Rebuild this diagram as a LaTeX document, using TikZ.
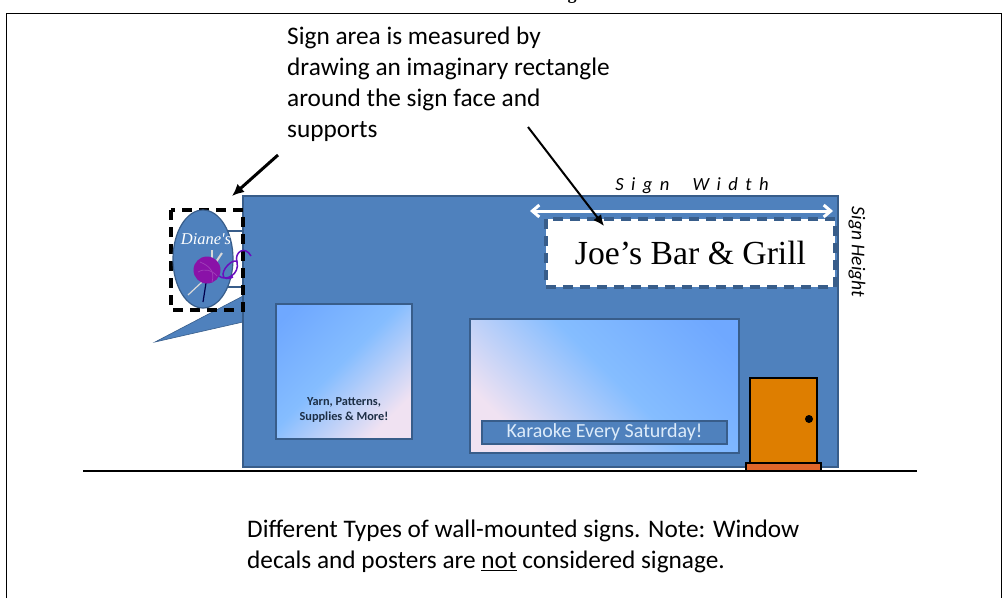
\documentclass[tikz,border=0pt]{standalone}
\usepackage{fontspec}
\setmainfont{Carlito}
\newfontfamily\serifjoe{Liberation Serif}
\newfontfamily\spacedit[LetterSpace=40,ItalicFont={Carlito Italic}]{Carlito}
\usetikzlibrary{arrows.meta,shapes.geometric}
\definecolor{wallblue}{HTML}{4F81BD}
\definecolor{edgeblue}{HTML}{385D8A}
\definecolor{winA}{HTML}{6FA8FF}
\definecolor{winB}{HTML}{85BDFF}
\definecolor{winC}{HTML}{F0E2F2}
\definecolor{doorfill}{HTML}{DE7E00}
\definecolor{stepfill}{HTML}{E0662A}
\definecolor{yarn}{HTML}{8A12A8}
\definecolor{bannertext}{HTML}{DCEBFA}
\pgfdeclarehorizontalshading{winshade}{100bp}{color(0bp)=(winA); color(20bp)=(winA); color(47bp)=(winB); color(74bp)=(winC); color(100bp)=(winC)}
\tikzset{
  wall/.style={draw=edgeblue,line width=1.8pt,fill=wallblue},
  winbox/.style={draw=edgeblue,line width=2.6pt,shading=winshade},
  signbox/.style={dash pattern=on 10pt off 7pt,line width=3.2pt},
  callout/.style={-{Latex[length=12pt,width=11pt]},line width=3pt,black},
  body/.style={font=\fontsize{25.3}{31}\selectfont,align=left,anchor=north west,inner sep=0pt,text=black},
}
\begin{document}
\begin{tikzpicture}[x=1pt,y=-1pt]
\useasboundingbox (0,0) rectangle (1008,598);
\fill[white] (0,0) rectangle (1008,598);
\node[font=\serifjoe\bfseries\fontsize{18}{18}\selectfont,anchor=base,inner sep=0pt] (title) at (572,-1) {g};
\draw[line width=1.8pt,black] (6.5,598) -- (6.5,13.5) -- (1001.5,13.5) -- (1001.5,598);
% small white panel behind the oval
\draw[edgeblue,line width=1.4pt,fill=white] (225,231) rectangle (243,287);
% bracket triangle
\coordinate (triA) at (155,342);
\coordinate (triB) at (243,296);
\coordinate (triC) at (243,322);
\fill[wallblue,draw=edgeblue,line width=.6pt] (triA) -- (triB) -- (triC) -- cycle;
% building
\draw[wall] (243,196) rectangle (838,467);
% projecting sign
\draw[signbox,black] (171,210) rectangle (243,310);
\node[draw=edgeblue,line width=1.2pt,fill=wallblue,ellipse,minimum width=60pt,minimum height=98pt,inner sep=0pt] (oval) at (203,259) {};
\node[font=\serifjoe\itshape\fontsize{16.5}{16}\selectfont,text=white,inner sep=0pt] (diane) at (206,239) {Diane's};
\draw[white!85!black,line width=1.2pt] (202,282) -- (188,295);
\draw[black!70!blue,line width=1.2pt] (206,283) -- (203,302);
\draw[white!85!black,line width=2pt] (212,250) -- (212,262);
\draw[white!85!black,line width=2pt] (222,253) -- (214,265);
\node[circle,fill=yarn,minimum size=27pt,inner sep=0pt] (ball) at (207,270) {};
\draw[yarn!80!white,line width=.7pt] (200,262) .. controls (210,266) and (215,272) .. (212,282);
\draw[yarn!80!white,line width=.7pt] (198,272) .. controls (205,268) and (212,270) .. (217,276);
\draw[yarn!75!blue,line width=1.5pt] (219,276) .. controls (226,282) and (240,274) .. (237,262)
  .. controls (235,258) and (224,266) .. (223,274) .. controls (222,280) and (230,279) .. (233,277);
\draw[yarn!75!blue,line width=1.5pt] (237,262) .. controls (234,252) and (245,245) .. (251,256);
% windows
\draw[winbox,shading angle=315] (276,304) rectangle (412,439);
\node[font=\bfseries\fontsize{12.3}{15.5}\selectfont,text=edgeblue!50!black,align=center,inner sep=0pt] (yarntext) at (344,410) {Yarn, Patterns,\\Supplies \& More!};
\draw[winbox,shading angle=225] (470,319) rectangle (739,453);
\node[draw=edgeblue,line width=1.8pt,fill=wallblue,minimum width=245pt,minimum height=23pt,inner sep=0pt,text=bannertext,font=\fontsize{20}{20}\selectfont] (banner) at (604.5,432.5) {Karaoke Every Saturday!};
% ground
\coordinate (groundL) at (83,471);
\coordinate (groundR) at (917,471);
\draw[black,line width=2.8pt] (groundL) -- (groundR);
% door
\draw[black,line width=1.3pt,fill=doorfill] (750,378) rectangle (817,463);
\draw[black,line width=1.3pt,fill=stepfill] (746,463) rectangle (821,471);
\node[circle,fill=black,minimum size=8pt,inner sep=0pt] (knob) at (809,419) {};
% wall sign
\node[draw=none,fill=white,minimum width=289pt,minimum height=68pt,inner sep=0pt,font=\serifjoe\fontsize{33.7}{33}\selectfont] (joe) at (690.5,253) {Joe’s Bar \& Grill};
\draw[signbox,edgeblue,line width=3.2pt] (546,219) rectangle (835,287);
% sign width
\coordinate (wL) at (530,211);
\coordinate (wR) at (833,211);
\draw[{Straight Barb[length=7pt,width=12pt]}-{Straight Barb[length=7pt,width=12pt]},white,line width=3pt] (wL) -- (wR);
\node[font=\spacedit\itshape\fontsize{18.6}{18}\selectfont,inner sep=0pt] (sw) at (692,186) {Sign\ \ Width};
\node[font=\itshape\fontsize{19.5}{19}\selectfont,rotate=-90,inner sep=0pt] (sh) at (857,252) {Sign Height};
% texts
\node[body] (upper) at (287,27) {Sign area is measured by\\drawing an imaginary rectangle\\around the sign face and\\supports};
\node[body] (lower) at (247,520) {Different Types of wall-mounted signs. Note: Window\\decals and posters are \underline{not} considered signage.};
% callouts
\coordinate (a1s) at (278,155);
\coordinate (a1e) at (232,196);
\coordinate (a2s) at (528,127);
\coordinate (a2e) at (604,226);
\draw[callout] (a1s) -- (a1e);
\draw[callout,line width=2pt,-{Latex[length=11pt,width=10pt]}] (a2s) -- (a2e);
\end{tikzpicture}
\end{document}
